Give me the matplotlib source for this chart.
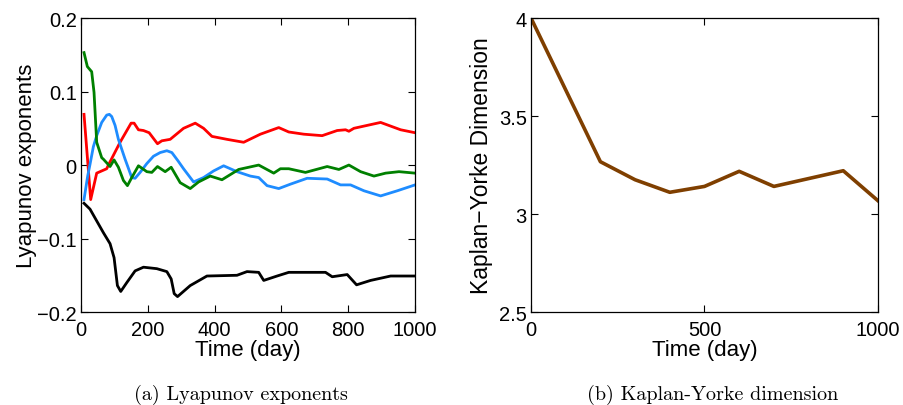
import matplotlib
matplotlib.use("Agg")
import matplotlib.pyplot as plt

plt.rcParams["font.family"] = ["Liberation Sans", "DejaVu Sans"]

# ---- Lyapunov exponents (panel a) ----
red_t = [9, 29, 47, 77, 82, 117, 150, 159, 172, 187, 204, 229, 242, 267, 307, 342, 367, 392,
         437, 487, 537, 592, 622, 667, 722, 767, 792, 802, 817, 897, 957, 1000]
red_v = [0.069, -0.047, -0.011, -0.005, 0.0, 0.031, 0.057, 0.057, 0.048, 0.047, 0.044, 0.029,
         0.033, 0.035, 0.050, 0.057, 0.050, 0.039, 0.035, 0.031, 0.042, 0.051, 0.045, 0.042,
         0.040, 0.047, 0.048, 0.046, 0.050, 0.058, 0.048, 0.044]

blue_t = [9, 20, 27, 37, 47, 62, 77, 85, 92, 102, 112, 132, 152, 162, 177, 197, 217, 237, 257,
          272, 290, 307, 337, 367, 397, 427, 467, 507, 532, 557, 592, 627, 677, 737, 777, 807,
          847, 897, 947, 1000]
blue_v = [-0.047, -0.015, 0.001, 0.025, 0.040, 0.058, 0.068, 0.069, 0.066, 0.054, 0.035, 0.008,
          -0.017, -0.018, -0.010, 0.002, 0.012, 0.017, 0.0195, 0.017, 0.006, -0.005, -0.023,
          -0.017, -0.008, -0.001, -0.009, -0.015, -0.017, -0.028, -0.032, -0.026, -0.018,
          -0.019, -0.027, -0.027, -0.035, -0.042, -0.035, -0.027]

green_t = [9, 19, 32, 39, 47, 62, 67, 87, 99, 112, 127, 139, 152, 172, 197, 212, 229, 252, 270,
           297, 327, 352, 387, 422, 472, 532, 577, 597, 622, 672, 737, 772, 802, 837, 877, 912,
           952, 1000]
green_v = [0.153, 0.134, 0.127, 0.099, 0.031, 0.010, 0.008, -0.002, 0.007, -0.003, -0.021,
           -0.028, -0.017, -0.001, -0.009, -0.010, -0.002, -0.009, -0.003, -0.024, -0.032,
           -0.023, -0.015, -0.020, -0.006, 0.0, -0.011, -0.005, -0.005, -0.010, -0.002, -0.006,
           0.0, -0.009, -0.015, -0.011, -0.009, -0.011]

black_t = [9, 27, 47, 67, 87, 99, 109, 119, 137, 162, 187, 227, 257, 270, 279, 289, 327, 377,
           467, 497, 532, 547, 587, 622, 732, 752, 797, 825, 867, 927, 1000]
black_v = [-0.052, -0.060, -0.076, -0.092, -0.107, -0.126, -0.164, -0.172, -0.160, -0.144,
           -0.139, -0.141, -0.145, -0.155, -0.175, -0.179, -0.164, -0.151, -0.150, -0.145,
           -0.146, -0.157, -0.151, -0.146, -0.146, -0.152, -0.149, -0.163, -0.157, -0.151,
           -0.151]

# ---- Kaplan-Yorke dimension (panel b) ----
ky_t = [0, 200, 300, 400, 500, 600, 700, 900, 1000]
ky_v = [4.0, 3.267, 3.175, 3.111, 3.141, 3.218, 3.141, 3.221, 3.068]

fig = plt.figure(figsize=(9.04, 4.06), dpi=100)
ax1 = fig.add_axes([0.0896, 0.229, 0.3695, 0.724])
ax2 = fig.add_axes([0.5874, 0.229, 0.3838, 0.724])

lw = 2.0
ax1.plot(red_t, red_v, color="#FF0000", lw=lw)
ax1.plot(blue_t, blue_v, color="#1E8CFF", lw=lw)
ax1.plot(green_t, green_v, color="#008000", lw=lw)
ax1.plot(black_t, black_v, color="black", lw=lw)
ax1.set_xlim(0, 1000)
ax1.set_ylim(-0.2, 0.2)
ax1.set_xticks([0, 200, 400, 600, 800, 1000])
ax1.set_yticks([-0.2, -0.1, 0, 0.1, 0.2])
ax1.set_yticklabels(["\u22120.2", "\u22120.1", "0", "0.1", "0.2"])
ax1.set_xlabel("Time (day)", fontsize=16, labelpad=0)
ax1.set_ylabel("Lyapunov exponents", fontsize=16, labelpad=0)

ax2.plot(ky_t, ky_v, color="#7F3F00", lw=2.6)
ax2.set_xlim(0, 1000)
ax2.set_ylim(2.5, 4)
ax2.set_xticks([0, 500, 1000])
ax2.set_yticks([2.5, 3, 3.5, 4])
ax2.set_yticklabels(["2.5", "3", "3.5", "4"])
ax2.set_xlabel("Time (day)", fontsize=16, labelpad=0)
ax2.set_ylabel("Kaplan\u2212Yorke Dimension", fontsize=16.5, labelpad=4)

for ax in (ax1, ax2):
    ax.tick_params(direction="in", top=True, right=True, length=5, width=0.8,
                   labelsize=14.5)
    ax.tick_params(axis="x", pad=6)
    ax.tick_params(axis="y", pad=3)
    for s in ax.spines.values():
        s.set_linewidth(0.9)

fig.text(0.267, 0.027, "(a) Lyapunov exponents", ha="center", va="center",
         fontsize=14.5, family="cmr10")
fig.text(0.788, 0.027, "(b) Kaplan-Yorke dimension", ha="center", va="center",
         fontsize=14.5, family="cmr10")

fig.savefig("out.png", dpi=100)
